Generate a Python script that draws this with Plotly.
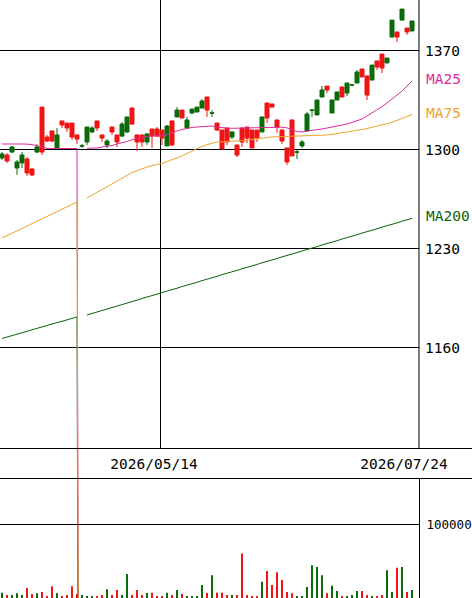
import plotly.graph_objects as go

# ---------------- data ----------------
OPEN = [1294.0, 1296.1, 1298.2, 1286.9, 1290.5, 1293.3, 1286.2, 1298.2, 1330.0, 1308.8,
        1313.1, 1301.1, 1320.2, 1318.7, 1318.7, 1310.3, 1302.4, 1305.3, 1312.4, 1320.2,
        1310.3, 1303.2, 1315.9, 1310.3, 1309.5, 1312.4, 1329.3, 1310.3, 1310.3, 1305.3,
        1314.5, 1314.5, 1313.8, 1302.5, 1320.2, 1323.0, 1327.9, 1315.2, 1325.8, 1326.5,
        1329.3, 1337.1, 1325.7, 1318.7, 1313.8, 1315.2, 1308.8, 1303.2, 1315.2, 1315.9,
        1313.8, 1313.8, 1312.4, 1332.9, 1332.2, 1320.9, 1313.8, 1301.1, 1320.9, 1298.1,
        1302.5, 1313.1, 1327.7, 1324.4, 1337.1, 1344.9, 1325.8, 1335.0, 1344.2, 1339.9,
        1345.5, 1347.0, 1356.9, 1352.0, 1349.1, 1362.6, 1367.5, 1361.2, 1379.5, 1383.1,
        1391.5, 1385.9, 1383.8]
HIGH = [1298.2, 1297.5, 1302.5, 1292.6, 1298.2, 1294.7, 1286.9, 1303.9, 1330.0, 1310.3,
        1313.1, 1315.2, 1320.2, 1318.7, 1318.7, 1310.3, 1303.9, 1315.9, 1316.6, 1320.2,
        1310.3, 1307.4, 1315.9, 1310.3, 1319.4, 1323.0, 1330.0, 1310.3, 1310.3, 1311.7,
        1314.5, 1315.9, 1313.8, 1317.3, 1320.2, 1330.0, 1327.9, 1323.0, 1328.6, 1330.0,
        1335.7, 1337.1, 1327.9, 1318.7, 1313.8, 1315.2, 1313.1, 1303.2, 1315.2, 1315.9,
        1313.8, 1313.8, 1323.0, 1332.9, 1332.2, 1320.9, 1313.8, 1301.1, 1320.9, 1299.6,
        1306.7, 1326.5, 1328.6, 1335.0, 1344.9, 1344.9, 1335.0, 1340.7, 1344.2, 1347.0,
        1346.3, 1356.2, 1356.9, 1352.0, 1359.7, 1362.6, 1367.5, 1364.7, 1391.5, 1383.1,
        1399.3, 1385.9, 1390.9]
LOW = [1292.6, 1290.5, 1297.5, 1282.0, 1286.9, 1281.3, 1281.3, 1297.5, 1296.1, 1305.3,
       1305.3, 1301.1, 1315.2, 1312.4, 1306.7, 1303.9, 1301.1, 1303.2, 1311.7, 1313.1,
       1305.3, 1301.1, 1310.3, 1301.8, 1308.8, 1311.7, 1317.3, 1298.9, 1301.8, 1303.2,
       1301.1, 1308.8, 1303.2, 1302.5, 1302.5, 1323.0, 1322.3, 1315.2, 1325.1, 1326.5,
       1329.3, 1323.0, 1323.0, 1313.1, 1300.4, 1303.2, 1307.4, 1294.7, 1301.8, 1304.6,
       1301.1, 1305.3, 1312.4, 1318.7, 1330.0, 1311.7, 1303.9, 1289.0, 1295.4, 1293.3,
       1301.1, 1313.1, 1323.0, 1324.4, 1337.1, 1339.9, 1325.8, 1335.0, 1337.1, 1337.8,
       1344.9, 1347.0, 1351.3, 1335.0, 1349.1, 1356.2, 1354.1, 1361.2, 1379.5, 1376.0,
       1391.5, 1381.0, 1383.8]
CLOSE = [1296.8, 1291.9, 1301.8, 1291.2, 1296.1, 1283.4, 1282.0, 1301.8, 1298.2, 1306.0,
         1306.0, 1310.3, 1317.3, 1315.2, 1308.8, 1307.4, 1302.6, 1315.9, 1315.2, 1315.2,
         1308.1, 1306.0, 1312.4, 1305.3, 1318.0, 1323.0, 1318.0, 1305.3, 1305.3, 1311.0,
         1309.5, 1309.5, 1308.1, 1316.6, 1303.2, 1327.9, 1322.3, 1320.9, 1328.6, 1330.0,
         1334.3, 1327.9, 1325.9, 1313.8, 1300.4, 1305.3, 1312.4, 1296.1, 1305.3, 1308.1,
         1301.1, 1308.1, 1323.0, 1322.3, 1330.0, 1315.9, 1306.0, 1291.2, 1295.4, 1298.3,
         1305.3, 1325.1, 1327.9, 1335.0, 1342.1, 1342.1, 1335.0, 1340.7, 1337.1, 1347.0,
         1345.7, 1354.8, 1351.3, 1338.5, 1359.7, 1358.3, 1357.6, 1364.7, 1391.5, 1379.5,
         1399.3, 1383.1, 1390.9]
VOLUME = [7000, 4000, 4000, 6500, 4000, 13500, 5400, 6500, 8000, 2700,
          16000, 6500, 2700, 4000, 16000, 5400, 4000, 2700, 2700, 2700,
          4000, 12000, 4000, 10800, 4000, 32400, 4000, 10800, 4000, 6800,
          7200, 2700, 2700, 7200, 4000, 10800, 5400, 2700, 2700, 2700,
          17500, 6800, 31000, 7200, 7200, 4000, 4000, 4000, 60400, 4000,
          2700, 2700, 22000, 36800, 17600, 35000, 24300, 8100, 6500, 2700,
          2700, 15000, 44600, 42000, 31000, 6500, 16600, 9500, 2700, 2700,
          4000, 9500, 9500, 4000, 2700, 2700, 4000, 37800, 8100, 41000,
          42000, 8100, 10800]
MA25 = [1303.9, 1304.0, 1303.9, 1303.8, 1303.9, 1303.8, 1303.5, 1302.5, 1301.4, 1300.8,
        1300.7, 1300.6, 1300.7, 1300.7, 1300.6, 1300.7, 0, 1300.8, 1300.8, 1301.1,
        1301.8, 1302.3, 1302.8, 1303.9, 1304.6, 1305.7, 1306.9, 1307.8, 1308.6, 1309.3,
        1309.7, 1309.5, 1309.8, 1310.4, 1312.0, 1313.1, 1314.1, 1315.0, 1315.6, 1315.9,
        1316.2, 1316.5, 1316.6, 1315.9, 1315.3, 1315.1, 1315.0, 1315.1, 1315.2, 1315.2,
        1315.2, 1315.2, 1315.3, 1315.6, 1315.9, 1315.9, 1315.8, 1315.3, 1314.1, 1312.7,
        1312.4, 1313.1, 1313.8, 1314.1, 1314.5, 1315.2, 1315.9, 1316.3, 1317.0, 1318.0,
        1319.1, 1320.2, 1321.6, 1323.7, 1325.8, 1327.9, 1330.4, 1332.9, 1335.7, 1338.2,
        1341.4, 1344.9, 1348.4]
MA75 = [1237.4, 1239.1, 1240.8, 1242.5, 1244.2, 1245.9, 1247.6, 1249.3, 1251.0, 1252.7,
        1254.4, 1256.1, 1257.8, 1259.5, 1261.2, 1262.9, 0, 1265.7, 1267.7, 1269.7,
        1271.7, 1273.7, 1275.7, 1277.7, 1279.7, 1281.7, 1283.7, 1285.0, 1286.4, 1287.6,
        1288.6, 1289.3, 1290.2, 1291.4, 1292.7, 1293.9, 1295.4, 1297.2, 1298.9, 1300.7,
        1302.3, 1303.4, 1304.6, 1305.4, 1305.4, 1305.6, 1305.7, 1305.9, 1306.0, 1306.5,
        1307.1, 1307.6, 1308.0, 1308.6, 1308.9, 1309.0, 1309.1, 1309.3, 1309.3, 1309.5,
        1309.5, 1309.6, 1309.7, 1309.8, 1310.0, 1310.3, 1310.7, 1311.2, 1311.7, 1312.2,
        1312.8, 1313.4, 1314.1, 1314.8, 1315.6, 1316.4, 1317.3, 1318.2, 1319.2, 1320.6,
        1322.1, 1323.5, 1324.7]
MA200 = [1166.4, 1167.3, 1168.4, 1169.5, 1170.4, 1171.4, 1172.5, 1173.6, 1174.5, 1175.4,
         1176.5, 1177.6, 1178.5, 1179.4, 1180.6, 1181.6, 0, 1183.0, 1184.0, 1185.1,
         1186.3, 1187.2, 1188.2, 1189.3, 1190.5, 1191.4, 1192.4, 1193.5, 1194.7, 1195.6,
         1196.6, 1197.7, 1198.9, 1199.8, 1200.8, 1201.9, 1203.1, 1204.0, 1205.0, 1206.1,
         1207.3, 1208.2, 1209.2, 1210.3, 1211.5, 1212.4, 1213.4, 1214.5, 1215.7, 1216.6,
         1217.6, 1218.7, 1219.9, 1220.8, 1221.8, 1222.9, 1224.1, 1225.0, 1226.0, 1227.1,
         1228.3, 1229.2, 1230.2, 1231.3, 1232.5, 1233.4, 1234.4, 1235.5, 1236.7, 1237.6,
         1238.6, 1239.7, 1240.9, 1241.8, 1242.8, 1243.9, 1245.1, 1246.0, 1247.0, 1248.1,
         1249.3, 1250.2, 1251.3]
PRICE_TICKS = [1160, 1230, 1300, 1370]
VOLUME_TICKS = [100000]
DATE_LABELS = ["2026/05/14", "2026/07/24"]
DATE_INDEX = [30, 80]
MA_NAMES = ["MA25", "MA75", "MA200"]

# ---------------- styling ----------------
UP = "#0b6b0b"
DOWN = "#f01414"
MA_COLORS = ["#dc2c9c", "#f0a32c", "#0a640a"]
FONT = "DejaVu Sans Mono"
FS = 14.5

W, H = 472, 598
PLOT_W = 419
Y_PRICE_BOTTOM = 1 - 448.5 / H
Y_VOL_TOP = 1 - 478.5 / H

idx = list(range(len(CLOSE)))

fig = go.Figure()


def with_gap(vals):
    xs, ys = [], []
    for i, v in enumerate(vals):
        xs.append(i)
        ys.append(v)
        if v == 0:
            xs.append(None)
            ys.append(None)
    return xs, ys


for name, vals, col in [("MA25", MA25, MA_COLORS[0]), ("MA200", MA200, MA_COLORS[2]),
                        ("MA75", MA75, MA_COLORS[1])]:
    xs, ys = with_gap(vals)
    fig.add_trace(go.Scatter(x=xs, y=ys, mode="lines", name=name,
                             line=dict(color=col, width=1), hoverinfo="skip",
                             xaxis="x", yaxis="y"))

fig.add_trace(go.Candlestick(
    x=idx, open=OPEN, high=HIGH, low=LOW, close=CLOSE,
    increasing=dict(line=dict(color=UP, width=1), fillcolor=UP),
    decreasing=dict(line=dict(color=DOWN, width=1), fillcolor=DOWN),
    whiskerwidth=0, xaxis="x", yaxis="y", name="price"))

vol_colors = [UP if c >= o else DOWN for o, c in zip(OPEN, CLOSE)]
fig.add_trace(go.Bar(x=idx, y=VOLUME, width=0.2, marker=dict(color=vol_colors, line=dict(width=0)),
                     xaxis="x", yaxis="y2", name="volume"))

shapes = [
    dict(type="line", xref="paper", yref="paper", x0=0, x1=W / PLOT_W, y0=Y_PRICE_BOTTOM, y1=Y_PRICE_BOTTOM,
         line=dict(color="black", width=1)),
    dict(type="line", xref="paper", yref="paper", x0=0, x1=W / PLOT_W, y0=Y_VOL_TOP, y1=Y_VOL_TOP,
         line=dict(color="black", width=1)),
    dict(type="line", xref="x", yref="paper", x0=31.7, x1=31.7, y0=Y_PRICE_BOTTOM, y1=1,
         line=dict(color="black", width=1), layer="below"),
    dict(type="line", xref="paper", yref="paper", x0=1, x1=1, y0=Y_PRICE_BOTTOM, y1=1,
         line=dict(color="black", width=1)),
]

annotations = []
for name, vals, col in zip(MA_NAMES, [MA25, MA75, MA200], MA_COLORS):
    annotations.append(dict(x=1, xref="paper", y=vals[-1], yref="y", xanchor="left", yanchor="middle",
                            xshift=5, yshift=2, text=name, showarrow=False,
                            font=dict(family=FONT, size=FS, color=col)))

fig.update_layout(
    width=W, height=H,
    margin=dict(l=0, r=W - PLOT_W, t=0, b=0, pad=0, autoexpand=False),
    paper_bgcolor="white", plot_bgcolor="rgba(0,0,0,0)",
    showlegend=False,
    boxgap=0.2, boxgroupgap=0,
    shapes=shapes, annotations=annotations,
    xaxis=dict(range=[-0.4, 83.4], anchor="free", position=Y_PRICE_BOTTOM, automargin=False,
               showgrid=False, zeroline=False, showline=False, ticks="",
               tickmode="array", tickvals=DATE_INDEX, ticktext=DATE_LABELS,
               tickfont=dict(family=FONT, size=FS, color="black"),
               ticklabelstandoff=5, ticklabelshift=2,
               rangeslider=dict(visible=False), fixedrange=True),
    yaxis=dict(domain=[0, 1], range=[982.88, 1405.71], side="right", anchor="x", automargin=False,
               tickmode="array", tickvals=PRICE_TICKS, ticktext=[str(v) for v in PRICE_TICKS],
               showgrid=True, gridcolor="black", gridwidth=1, zeroline=False, showline=False,
               ticks="", tickfont=dict(family=FONT, size=FS, color="black"),
               ticklabelstandoff=5, fixedrange=True),
    yaxis2=dict(domain=[0, 1 - 478.5 / H], range=[0, 162162], side="right", anchor="x", automargin=False,
                tickmode="array", tickvals=VOLUME_TICKS, ticktext=[str(v) for v in VOLUME_TICKS],
                showgrid=True, gridcolor="black", gridwidth=1, zeroline=False,
                showline=True, linecolor="black", linewidth=1,
                ticks="", tickfont=dict(family=FONT, size=12.5, color="black"),
                ticklabelstandoff=4, fixedrange=True),
)

fig.write_html("out.html")
